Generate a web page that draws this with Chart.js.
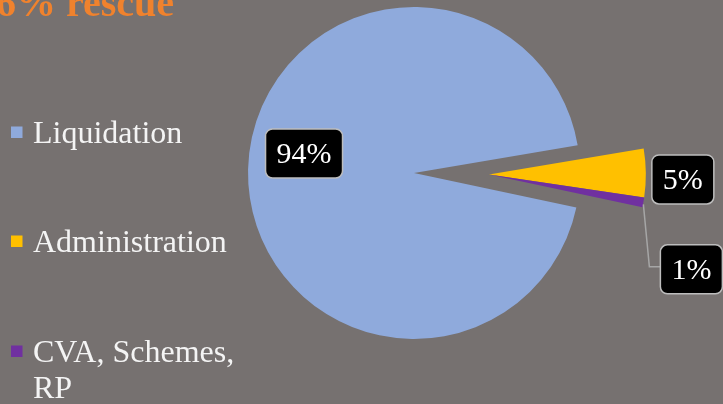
<!DOCTYPE html>
<html>
<head>
<meta charset="utf-8">
<script src="https://cdn.jsdelivr.net/npm/chart.js@4.4.1/dist/chart.umd.min.js"></script>
<style>
  html, body { margin: 0; padding: 0; background: #767170; }
  canvas { display: block; }
</style>
</head>
<body>
<canvas id="pie" width="723" height="404"></canvas>
<script>
// Outcome shares (percent)
const outcomes = ['Liquidation', 'Administration', ['CVA, Schemes,', 'RP']];
const shares = [94, 5, 1];
const valueLabels = ['94%', '5%', '1%'];
const headline = '6% rescue';

// Styling
const sliceColors = ['#8faadc', '#ffc000', '#7030a0'];
const explode = [0, 75, 75];          // px the slice is pulled out
const explodedScale = 0.945;          // pulled slices are drawn a little smaller
const labelNudge = [[56, -16], [37, 6.5], [48, 67]]; // box centre from the slice's outer edge
const legendBaselines = [143, 252, 362];
const serif = '"Liberation Serif", "Times New Roman", serif';
const textColor = '#f4f4f4';

// Pull the rescue slices out together, like an exploded pie
const explodeSlices = {
  id: 'explodeSlices',
  afterDatasetsUpdate(chart) {
    const arcs = chart.getDatasetMeta(0).data;
    const pulled = arcs.filter((a, i) => explode[i] > 0);
    if (!pulled.length) return;
    const from = Math.min(...pulled.map(a => a.startAngle));
    const to = Math.max(...pulled.map(a => a.endAngle));
    const mid = (from + to) / 2;
    arcs.forEach((arc, i) => {
      if (!explode[i]) return;
      arc.x += Math.cos(mid) * explode[i];
      arc.y += Math.sin(mid) * explode[i];
      arc.outerRadius *= explodedScale;
    });
  }
};

function roundRect(ctx, x, y, w, h, r) {
  ctx.beginPath();
  ctx.moveTo(x + r, y);
  ctx.arcTo(x + w, y, x + w, y + h, r);
  ctx.arcTo(x + w, y + h, x, y + h, r);
  ctx.arcTo(x, y + h, x, y, r);
  ctx.arcTo(x, y, x + w, y, r);
  ctx.closePath();
}

// Black value boxes, with a leader line for the thin slice
const valueBoxes = {
  id: 'valueBoxes',
  afterDatasetsDraw(chart) {
    const ctx = chart.ctx;
    const arcs = chart.getDatasetMeta(0).data;
    ctx.save();
    ctx.font = '30px ' + serif;
    arcs.forEach((arc, i) => {
      const mid = (arc.startAngle + arc.endAngle) / 2;
      const ex = arc.x + Math.cos(mid) * arc.outerRadius;
      const ey = arc.y + Math.sin(mid) * arc.outerRadius;
      const cx = ex + labelNudge[i][0];
      const cy = ey + labelNudge[i][1];
      const w = ctx.measureText(valueLabels[i]).width + 22;
      const h = 49;
      const left = cx - w / 2;

      if (i === 2) {
        ctx.strokeStyle = '#a6a6a6';
        ctx.lineWidth = 1.5;
        ctx.beginPath();
        ctx.moveTo(ex, ey + 2);
        ctx.lineTo(left - 11, cy - 2.5);
        ctx.lineTo(left, cy - 2.5);
        ctx.stroke();
      }

      roundRect(ctx, left, cy - h / 2, w, h, 7);
      ctx.fillStyle = '#000';
      ctx.fill();
      ctx.strokeStyle = '#bdbdbd';
      ctx.lineWidth = 1.5;
      ctx.stroke();

      ctx.fillStyle = '#fff';
      ctx.textAlign = 'center';
      ctx.textBaseline = 'middle';
      ctx.fillText(valueLabels[i], cx, cy + 2);
    });
    ctx.restore();
  }
};

// Headline and the legend down the left side
const sideText = {
  id: 'sideText',
  afterDraw(chart) {
    const ctx = chart.ctx;
    ctx.save();
    ctx.font = 'bold 40px ' + serif;
    ctx.fillStyle = '#f0822d';
    ctx.textBaseline = 'alphabetic';
    const lead = ctx.measureText(headline.split(' ')[0] + ' ').width;
    ctx.fillText(headline, 66 - lead, 15.7);

    ctx.font = '32px ' + serif;
    chart.data.labels.forEach((label, i) => {
      const base = legendBaselines[i];
      ctx.fillStyle = sliceColors[i];
      ctx.fillRect(11, base - 16.5, 11.5, 11.5);
      ctx.fillStyle = textColor;
      const lines = Array.isArray(label) ? label : [label];
      lines.forEach((line, k) => ctx.fillText(line, 33, base + k * 36));
    });
    ctx.restore();
  }
};

new Chart(document.getElementById('pie'), {
  type: 'pie',
  data: {
    labels: outcomes,
    datasets: [{
      data: shares,
      backgroundColor: sliceColors,
      borderWidth: 0
    }]
  },
  options: {
    responsive: false,
    animation: false,
    events: [],
    rotation: 102,
    radius: 166,
    layout: { padding: { left: 248, right: 143, top: 7, bottom: 65 } },
    plugins: {
      legend: { display: false },
      tooltip: { enabled: false }
    }
  },
  plugins: [explodeSlices, valueBoxes, sideText]
});
</script>
</body>
</html>
